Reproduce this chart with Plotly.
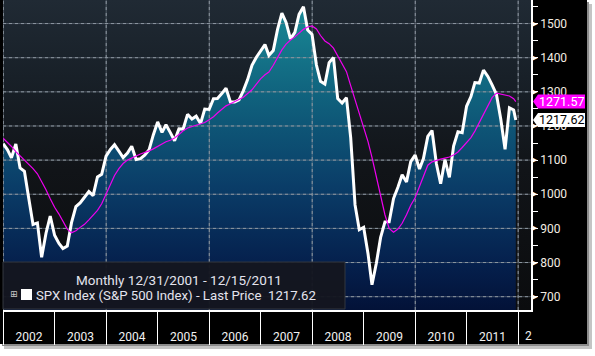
import plotly.graph_objects as go
import pandas as pd

# ---------------- data ----------------
dates = list(pd.date_range("2001-12-31", "2011-11-30", freq="ME").strftime("%Y-%m-%d")) + ["2011-12-15"]

spx_last = [
    1148.08,
    1130.20, 1106.73, 1147.39, 1076.92, 1067.14, 989.82, 911.62, 916.07, 815.28, 885.76, 936.31, 879.82,
    855.70, 841.15, 848.18, 916.92, 963.59, 974.50, 990.31, 1008.01, 995.97, 1050.71, 1058.20, 1111.92,
    1131.13, 1144.94, 1126.21, 1107.30, 1120.68, 1140.84, 1101.72, 1104.24, 1114.58, 1130.20, 1173.82, 1211.92,
    1181.27, 1203.60, 1180.59, 1156.85, 1191.50, 1191.33, 1234.18, 1220.33, 1228.81, 1207.01, 1249.48, 1248.29,
    1280.08, 1280.66, 1294.83, 1310.61, 1270.09, 1270.20, 1276.66, 1303.82, 1335.85, 1377.94, 1400.63, 1418.30,
    1438.24, 1406.82, 1420.86, 1482.37, 1530.62, 1503.35, 1455.27, 1473.99, 1526.75, 1549.38, 1481.14, 1468.36,
    1378.55, 1330.63, 1322.70, 1385.59, 1400.38, 1280.00, 1267.38, 1282.83, 1166.36, 968.75, 896.24, 903.25,
    825.88, 735.09, 797.87, 872.81, 919.14, 919.32, 987.48, 1020.62, 1057.08, 1036.19, 1095.63, 1115.10,
    1073.87, 1104.49, 1169.43, 1186.69, 1089.41, 1030.71, 1101.60, 1049.33, 1141.20, 1183.26, 1180.55, 1257.64,
    1286.12, 1327.22, 1325.83, 1363.61, 1345.20, 1320.64, 1292.28, 1218.89, 1131.42, 1253.30, 1246.96, 1217.62,
]

moving_avg = [
    1164,
    1152, 1140, 1125, 1113, 1102, 1090, 1075, 1060, 1038, 1013, 987, 962,
    942, 920, 898, 887, 893, 903, 912, 925, 938, 953, 972, 1000,
    1030, 1055, 1075, 1090, 1100, 1105, 1112, 1118, 1122, 1127, 1133, 1140,
    1148, 1154, 1158, 1165, 1175, 1186, 1194, 1198, 1201, 1205, 1210, 1218,
    1227, 1238, 1250, 1259, 1265, 1271, 1276, 1284, 1295, 1306, 1322, 1338,
    1350, 1358, 1378, 1402, 1423, 1440, 1452, 1461, 1472, 1483, 1490, 1493,
    1484, 1465, 1449, 1441, 1428, 1405, 1385, 1359, 1318, 1276, 1237, 1198,
    1154, 1108, 1050, 990, 940, 900, 889, 898, 915, 940, 968, 990,
    1022, 1055, 1085, 1095, 1100, 1103, 1106, 1109, 1115, 1124, 1137, 1152,
    1166, 1185, 1210, 1237, 1262, 1283, 1296, 1293, 1290, 1288, 1280, 1271.57,
]

last_price = 1217.62
last_ma = 1271.57

y_major_ticks = [700, 800, 900, 1000, 1100, 1200, 1300, 1400, 1500]
y_minor_ticks = [750, 850, 950, 1050, 1150, 1250, 1350, 1450, 1550]
grid_years = ["2002-01-01", "2004-01-01", "2006-01-01", "2008-01-01", "2010-01-01", "2012-01-01"]

legend_title = "Monthly 12/31/2001 - 12/15/2011"
legend_series = "SPX Index (S&P 500 Index) - Last Price\u00a0\u00a0" + f"{last_price:.2f}"

# ---------------- layout helpers ----------------
W, H = 595, 356
ML, MR, MT, MB = 3, 64, 0, 46
PW, PH = W - ML - MR, H - MT - MB
X_RANGE = ["2001-12-30", "2012-04-01"]
Y_RANGE = [661, 1569]
FONT = "Roboto, 'DejaVu Sans', sans-serif"
GRID_SOFT = "rgba(125,135,145,0.55)"
GRID = "#8d97a1"


def px(xp):
    return (xp - ML) / PW


def py(yp):
    return 1 - (yp - MT) / PH


fig = go.Figure()

# plot-area background gradient
fig.add_trace(go.Scatter(
    x=X_RANGE, y=[Y_RANGE[1], Y_RANGE[1]], mode="lines", line=dict(width=0),
    fill="tozeroy",
    fillgradient=dict(type="vertical", start=Y_RANGE[0], stop=Y_RANGE[1],
                      colorscale=[[0, "#0b0c0e"], [0.45, "#111418"], [0.75, "#182028"], [1, "#202a34"]]),
    hoverinfo="skip", showlegend=False))

# price area fill
fig.add_trace(go.Scatter(
    x=dates, y=spx_last, mode="lines", line=dict(width=0), fill="tozeroy",
    fillgradient=dict(type="vertical", start=Y_RANGE[0], stop=Y_RANGE[1],
                      colorscale=[[0, "#031238"], [0.15, "#05204d"], [0.4, "#0a3d68"],
                                  [0.7, "#10637e"], [1, "#1a8c98"]]),
    hoverinfo="skip", showlegend=False))

# gridlines: faint solid base plus dashed overlay
gx, gy = [], []
for v in y_major_ticks:
    gx += [X_RANGE[0], X_RANGE[1], None]
    gy += [v, v, None]
for d in grid_years:
    gx += [d, d, None]
    gy += [Y_RANGE[0], Y_RANGE[1], None]
fig.add_trace(go.Scatter(x=gx, y=gy, mode="lines",
                         line=dict(color=GRID_SOFT, width=1),
                         hoverinfo="skip", showlegend=False))
fig.add_trace(go.Scatter(x=gx, y=gy, mode="lines",
                         line=dict(color=GRID, width=1, dash="dot"),
                         hoverinfo="skip", showlegend=False))

# price line
fig.add_trace(go.Scatter(x=dates, y=spx_last, mode="lines",
                         line=dict(color="white", width=3),
                         hoverinfo="skip", showlegend=False))
# moving average
fig.add_trace(go.Scatter(x=dates, y=moving_avg, mode="lines",
                         line=dict(color="#f000f0", width=1.2),
                         hoverinfo="skip", showlegend=False))

label_path = "M 2 0 L 7 7 L 54 7 L 54 -7 L 7 -7 Z"

shapes = [
    # drop shadow + black frame
    dict(type="rect", xref="paper", yref="paper", x0=px(4), x1=px(592), y0=py(349), y1=py(4),
         fillcolor="#c4c4c4", line=dict(width=0), layer="below"),
    dict(type="rect", xref="paper", yref="paper", x0=px(2), x1=px(589), y0=py(346), y1=py(2),
         fillcolor="#8c8c8c", line=dict(width=0), layer="below"),
    dict(type="rect", xref="paper", yref="paper", x0=px(0), x1=px(587), y0=py(344), y1=py(0),
         fillcolor="black", line=dict(width=0), layer="below"),
    # legend box
    dict(type="rect", xref="paper", yref="paper", x0=px(3), x1=px(345), y0=py(309), y1=py(262),
         fillcolor="rgba(20,22,31,0.96)", line=dict(color="#33363e", width=1), layer="above"),
    # legend white square
    dict(type="rect", xref="paper", yref="paper", x0=px(21), x1=px(32), y0=py(300), y1=py(289),
         fillcolor="white", line=dict(width=0), layer="above"),
    # last-value label tags
    dict(type="path", xref="paper", yref="y", xsizemode="pixel", ysizemode="pixel",
         xanchor=px(531), yanchor=last_ma, path=label_path,
         fillcolor="#ff00ff", line=dict(width=0), layer="above"),
    dict(type="path", xref="paper", yref="y", xsizemode="pixel", ysizemode="pixel",
         xanchor=px(531), yanchor=last_price, path=label_path,
         fillcolor="white", line=dict(width=0), layer="above"),
]

annotations = [
    dict(text=legend_title, xref="paper", yref="paper", x=px(179), y=py(279.5),
         xanchor="center", yanchor="middle", showarrow=False,
         font=dict(family=FONT, size=13.5, color="#e4e4ee")),
    dict(text="\u229e", xref="paper", yref="paper", x=px(14), y=py(294),
         xanchor="center", yanchor="middle", showarrow=False,
         font=dict(family="DejaVu Sans", size=9, color="#c8c8c8")),
    dict(text=legend_series, xref="paper", yref="paper", x=px(34), y=py(295),
         xanchor="left", yanchor="middle", showarrow=False,
         font=dict(family=FONT, size=13.2, color="#e4e4ee")),
    dict(text="2", xref="paper", yref="paper", x=px(528.5), y=py(335.5),
         xanchor="center", yanchor="middle", showarrow=False,
         font=dict(family=FONT, size=12, color="#f2f2f2")),
]

# triangle markers on labelled ticks
for v in y_major_ticks:
    annotations.append(dict(text="\u25b6", xref="paper", yref="y", x=px(530), y=v,
                            xanchor="left", yanchor="middle", showarrow=False,
                            font=dict(family="DejaVu Sans", size=7, color="white")))

# last-value label texts
annotations.append(dict(text=f"{last_ma:.2f}", xref="paper", yref="y", x=px(561.5), y=last_ma,
                        xanchor="center", yanchor="middle", showarrow=False,
                        font=dict(family=FONT, size=12.5, color="white")))
annotations.append(dict(text=f"{last_price:.2f}", xref="paper", yref="y", x=px(561.5), y=last_price,
                        xanchor="center", yanchor="middle", showarrow=False,
                        font=dict(family=FONT, size=12.5, color="black")))

y_tickvals = sorted(y_major_ticks + y_minor_ticks)
y_ticktext = [str(v) if v in y_major_ticks else "" for v in y_tickvals]

fig.update_layout(
    width=W, height=H,
    margin=dict(l=ML, r=MR, t=MT, b=MB, pad=0),
    paper_bgcolor="white", plot_bgcolor="black",
    showlegend=False, hovermode=False,
    shapes=shapes, annotations=annotations,
    xaxis=dict(type="date", range=X_RANGE, showgrid=False, zeroline=False,
               showline=True, linecolor="white", linewidth=1.5,
               ticks="outside", ticklen=33, tickcolor="white", tickwidth=1,
               dtick="M12", tick0="2002-01-01", ticklabelmode="period", tickformat="%Y",
               ticklabelstandoff=-18,
               tickfont=dict(family=FONT, size=12, color="#f2f2f2")),
    yaxis=dict(range=Y_RANGE, side="right", showgrid=False, zeroline=False,
               showline=True, linecolor="white", linewidth=1.5,
               tickvals=y_tickvals, ticktext=y_ticktext,
               ticks="outside", ticklen=5, tickcolor="white", tickwidth=1,
               tickfont=dict(family=FONT, size=12, color="#f3ece2")),
)

fig.write_html("out.html", config={"displayModeBar": False},
               post_script="document.body.style.margin='0';document.body.style.overflow='hidden';")
